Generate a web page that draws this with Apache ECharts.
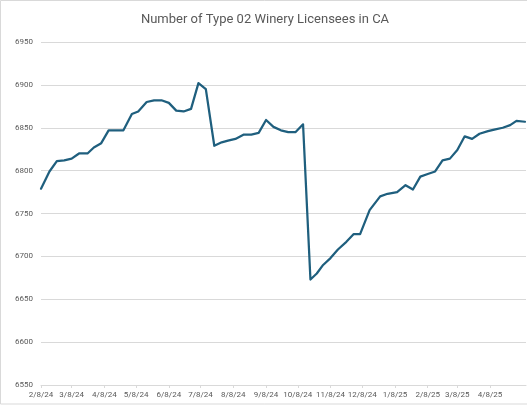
<!DOCTYPE html>
<html>
<head>
<meta charset="utf-8">
<script src="https://cdn.jsdelivr.net/npm/echarts@6/dist/echarts.min.js"></script>
<style>
html,body{margin:0;padding:0;background:#fff;}
#chart{width:527px;height:405px;}
</style>
</head>
<body>
<div id="chart"></div>
<script>
// ---- data ----
const dates = [
  "2024-02-08","2024-02-16","2024-02-23","2024-03-01","2024-03-08","2024-03-15","2024-03-23","2024-03-29",
  "2024-04-05","2024-04-12","2024-04-19","2024-04-26","2024-05-04","2024-05-10","2024-05-18","2024-05-25",
  "2024-06-01","2024-06-08","2024-06-15","2024-06-22","2024-06-29","2024-07-06","2024-07-13","2024-07-21",
  "2024-07-28","2024-08-03","2024-08-10","2024-08-18","2024-08-25","2024-09-01","2024-09-08","2024-09-15",
  "2024-09-22","2024-09-29","2024-10-06","2024-10-13","2024-10-20","2024-10-26","2024-11-01","2024-11-08",
  "2024-11-15","2024-11-23","2024-11-30","2024-12-06","2024-12-15","2024-12-25","2025-01-01","2025-01-10",
  "2025-01-18","2025-01-25","2025-02-01","2025-02-08","2025-02-15","2025-02-22","2025-03-01","2025-03-08",
  "2025-03-15","2025-03-22","2025-03-29","2025-04-06","2025-04-13","2025-04-20","2025-04-27","2025-05-03",
  "2025-05-11"
];
const licensees = [
  6779,6799,6811,6812,6814,6820,6820,6827,
  6832,6847,6847,6847,6866,6869,6880,6882,
  6882,6879,6870,6869,6872,6902,6895,6829,
  6833,6835,6837,6842,6842,6844,6859,6851,
  6847,6845,6845,6854,6673,6680,6690,6698,
  6708,6717,6726,6726,6754,6770,6773,6775,
  6783,6778,6793,6796,6799,6812,6814,6824,
  6840,6837,6843,6846,6848,6850,6853,6858,
  6857
];
const tickDates = [
  "2024-02-08","2024-03-08","2024-04-08","2024-05-08","2024-06-08","2024-07-08","2024-08-08","2024-09-08",
  "2024-10-08","2024-11-08","2024-12-08","2025-01-08","2025-02-08","2025-03-08","2025-04-08"
];
const axisStart = "2024-02-08";
const axisEnd = "2025-05-12";
const yMin = 6550, yMax = 6950, yStep = 50;
const titleText = "Number of Type 02 Winery Licensees in CA";

// ---- helpers: x is measured in days since axisStart ----
const DAY = 86400000;
function ts(s){ const p = s.split("-").map(Number); return Date.UTC(p[0], p[1]-1, p[2]); }
const t0 = ts(axisStart);
function dayOf(s){ return Math.round((ts(s) - t0) / DAY); }
function fmt(v){ const d = new Date(t0 + Math.round(v) * DAY); return (d.getUTCMonth()+1) + "/" + d.getUTCDate() + "/" + String(d.getUTCFullYear()).slice(2); }

const seriesData = dates.map((d,i)=>[dayOf(d), licensees[i]]);
const tickVals = tickDates.map(dayOf);

const chart = echarts.init(document.getElementById('chart'), null, {renderer:'canvas'});
const fontFam = 'Roboto, "Liberation Sans", sans-serif';
chart.setOption({
  animation:false,
  backgroundColor:'#ffffff',
  title:{
    text:titleText,
    left:260, top:8, textAlign:'center',
    textStyle:{fontSize:13, fontWeight:'normal', color:'#595959', fontFamily:fontFam}
  },
  grid:{left:41, right:1, top:42, bottom:20, containLabel:false},
  xAxis:{
    type:'value',
    min:0, max:dayOf(axisEnd),
    axisLine:{show:true, onZero:false, lineStyle:{color:'#d9d9d9', width:1}},
    axisTick:{show:true, length:3, lineStyle:{color:'#d9d9d9'}, customValues:tickVals},
    axisLabel:{customValues:tickVals, formatter:fmt, color:'#595959', fontSize:8, fontFamily:fontFam, margin:6, hideOverlap:false},
    splitLine:{show:false}
  },
  yAxis:{
    type:'value', min:yMin, max:yMax, interval:yStep,
    axisLine:{show:false}, axisTick:{show:false},
    axisLabel:{color:'#595959', fontSize:8, fontFamily:fontFam, margin:8, formatter:function(v){return String(v);}},
    splitLine:{lineStyle:{color:'#d9d9d9', width:1}}
  },
  graphic:[{
    type:'rect', shape:{x:0.5, y:0.5, width:530, height:403.5},
    style:{fill:null, stroke:'#d9d9d9', lineWidth:1}, silent:true, z:100
  }],
  series:[{
    type:'line', data:seriesData, showSymbol:false, symbol:'none',
    lineStyle:{color:'#1f5f7e', width:2.25, join:'round', cap:'round'},
    smooth:false
  }]
});
</script>
</body>
</html>
